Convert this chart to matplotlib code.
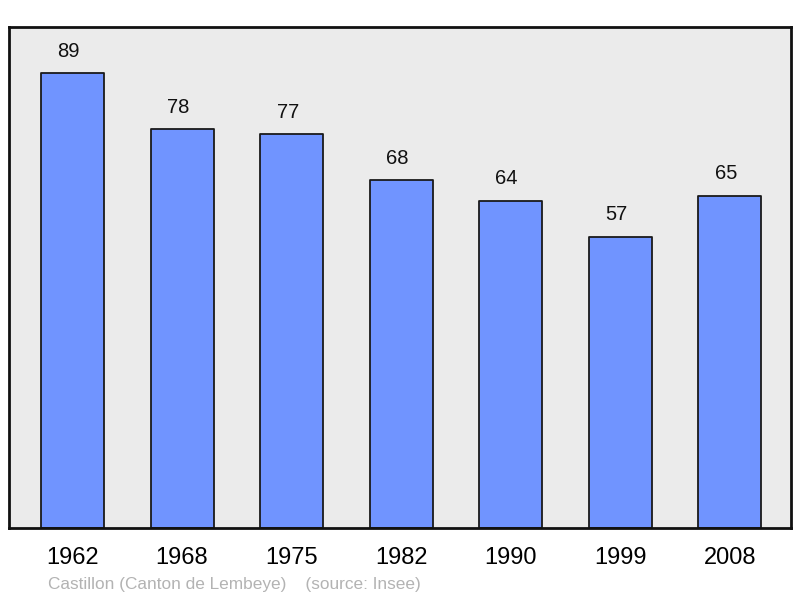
import matplotlib
matplotlib.use("Agg")
import matplotlib.pyplot as plt

years = ["1962", "1968", "1975", "1982", "1990", "1999", "2008"]
population = [89, 78, 77, 68, 64, 57, 65]
source_text = "Castillon (Canton de Lembeye)    (source: Insee)"

plt.rcParams['font.family'] = ['Liberation Sans', 'DejaVu Sans']

fig = plt.figure(figsize=(8, 5.98), dpi=100)
ax = fig.add_axes([9/800, 1-528/598, 782/800, 501/598])
ax.set_facecolor('#ebebeb')

x = list(range(len(years)))
bars = ax.bar(x, population, width=0.575, color='#7094ff', edgecolor='#1a1a1a',
              linewidth=1.3, joinstyle='round', zorder=2)
for xi, v in zip(x, population):
    ax.annotate(str(v), (xi, v), xytext=(-2.8, 9), textcoords='offset points',
                ha='center', va='bottom', fontsize=14.5, color='#111111')

ax.set_xlim(-0.58, 6.56)
ax.set_ylim(0, 98)
ax.set_xticks(x)
ax.set_xticklabels(years, fontsize=17)
ax.tick_params(axis='x', length=0, pad=14)
ax.set_yticks([])
for s in ax.spines.values():
    s.set_linewidth(2)
    s.set_color('#111111')

fig.text(48/800, 1-584/598, source_text, fontsize=12.4, color='#b3b3b3',
         ha='left', va='center')

fig.savefig('out.png', dpi=100, facecolor='white')
